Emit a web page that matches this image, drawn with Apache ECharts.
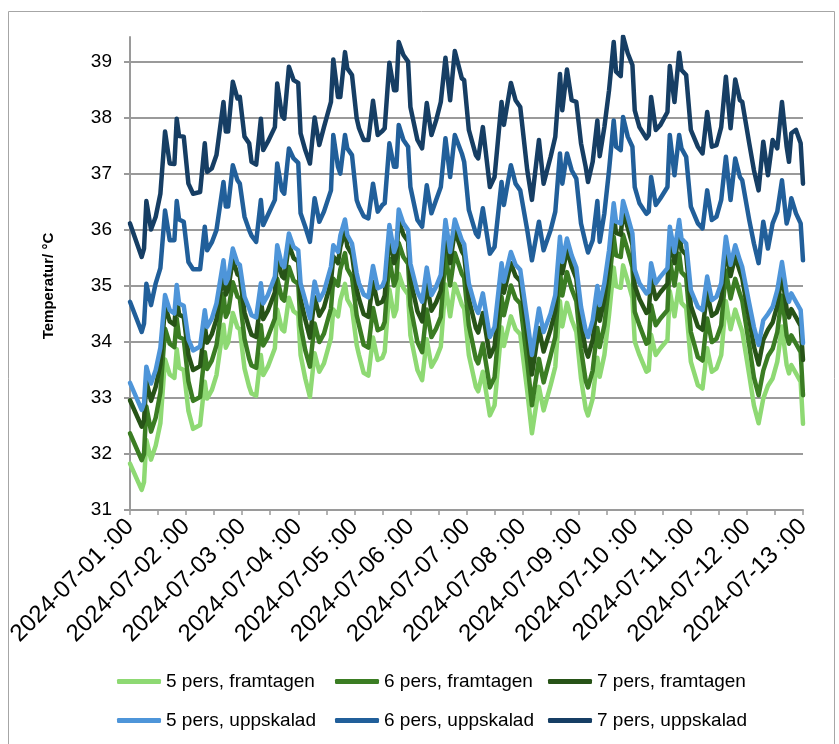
<!DOCTYPE html>
<html><head><meta charset="utf-8">
<script src="https://cdn.jsdelivr.net/npm/echarts@6/dist/echarts.min.js"></script>
<style>html,body{margin:0;padding:0;background:#fff}#c{width:839px;height:744px}</style>
</head><body><div id="c"></div>
<script>
const hours = [0,5,6,7,9,11,13,15,17,19, 20,21,23,25,27,30,32,33,35,37, 40,41,42,44,46,47,49,51,52,54, 56,57,59,62,63,65,66,68,70,72, 73,75,77,79,81,83,86,87,89,90, 92,93,95,97,98,100,102,104,106,108, 109,111,113,114,115,117,119,120,123,125, 127,129,131,133,135,137,139,142,143,145, 148,149,151,154,156,159,160,163,165,167, 170,172,175,177,180,182,184,185,187,189, 191,193,195,196,198,200,201,203,205,207, 208,210,211,213,215,216,218,221,222,223, 225,227,230,231,233,235,236,238,240,243, 245,247,249,251,253,255,257,259,261,262, 265,267,269,271,273,275,277,279,281,282, 283,285,287,288];

const s5f = [31.83,31.36,31.50,32.25,31.90,32.15,32.55,33.69,33.42,33.36, 33.87,33.54,33.50,32.77,32.45,32.52,33.29,32.99,33.14,33.41, 34.31,33.90,33.99,34.52,34.26,34.23,33.53,33.20,33.08,33.04, 33.77,33.41,33.56,33.89,34.58,34.23,34.19,34.79,34.55,34.49, 33.77,33.35,33.02,33.80,33.47,33.62,34.07,34.58,34.46,34.75, 35.04,34.76,34.61,33.95,33.77,33.45,33.40,34.08,33.68,33.72, 33.83,34.94,34.46,34.58,35.22,34.97,34.85,34.12,33.50,33.32, 34.05,33.56,33.71,33.92,35.03,34.46,35.04,34.67,34.60,33.77, 33.20,33.12,33.47,32.69,32.87,34.26,33.93,34.46,34.23,34.14, 33.12,32.37,33.20,32.78,33.23,33.56,34.73,34.28,34.70,34.40, 34.18,33.35,32.81,32.69,32.99,33.72,33.38,33.77,34.49,35.33, 35.00,34.97,35.37,35.09,34.79,34.01,33.77,33.47,33.50,34.13, 33.77,33.89,34.04,34.91,34.46,35.03,34.70,34.61,33.65,33.23, 33.17,33.89,33.47,33.53,33.77,34.73,34.23,34.58,34.31,34.19, 33.41,32.87,32.55,32.99,33.22,33.35,33.65,34.28,33.59,33.44, 33.59,33.44,33.29,32.54];

const s6f = [32.37,31.89,32.00,32.85,32.40,32.65,33.10,34.24,33.97,33.91, 34.42,34.09,34.05,33.30,32.95,33.02,33.82,33.52,33.67,33.94, 34.86,34.45,34.54,35.07,34.81,34.78,34.06,33.70,33.58,33.54, 34.30,33.94,34.09,34.42,35.13,34.78,34.74,35.34,35.10,35.04, 34.30,33.85,33.56,34.33,34.00,34.15,34.60,35.13,35.01,35.30, 35.59,35.31,35.16,34.48,34.30,33.95,33.90,34.61,34.21,34.25, 34.36,35.49,35.01,35.13,35.77,35.52,35.40,34.65,34.00,33.82, 34.58,34.09,34.24,34.45,35.58,35.01,35.59,35.22,35.15,34.30, 33.70,33.62,33.97,33.19,33.37,34.81,34.48,35.01,34.78,34.69, 33.65,32.87,33.70,33.28,33.76,34.09,35.28,34.83,35.25,34.95, 34.73,33.88,33.31,33.19,33.49,34.25,33.91,34.30,35.04,35.88, 35.55,35.52,35.92,35.64,35.34,34.54,34.30,33.97,34.00,34.66, 34.30,34.42,34.57,35.46,35.01,35.58,35.25,35.16,34.18,33.73, 33.67,34.42,34.00,34.06,34.30,35.28,34.78,35.13,34.86,34.74, 33.94,33.37,33.05,33.49,33.75,33.88,34.18,34.83,34.12,33.97, 34.12,33.97,33.82,33.05];

const s7f = [32.96,32.49,32.60,33.30,32.95,33.20,33.60,34.64,34.37,34.31, 34.82,34.49,34.45,33.77,33.50,33.57,34.29,33.99,34.14,34.41, 35.26,34.85,34.94,35.47,35.21,35.18,34.53,34.25,34.13,34.09, 34.77,34.41,34.56,34.89,35.53,35.18,35.14,35.74,35.50,35.44, 34.77,34.40,34.08,34.80,34.47,34.62,35.07,35.53,35.41,35.70, 35.99,35.71,35.56,34.95,34.77,34.50,34.45,35.08,34.68,34.72, 34.83,35.89,35.41,35.53,36.17,35.92,35.80,35.12,34.55,34.37, 35.05,34.56,34.71,34.92,35.98,35.41,35.99,35.62,35.55,34.77, 34.25,34.17,34.52,33.74,33.92,35.21,34.88,35.41,35.18,35.09, 34.12,33.42,34.25,33.83,34.23,34.56,35.68,35.23,35.65,35.35, 35.13,34.35,33.86,33.74,34.04,34.72,34.38,34.77,35.44,36.28, 35.95,35.92,36.32,36.04,35.74,35.01,34.77,34.52,34.55,35.13, 34.77,34.89,35.04,35.86,35.41,35.98,35.65,35.56,34.65,34.28, 34.22,34.89,34.47,34.53,34.77,35.68,35.18,35.53,35.26,35.14, 34.41,33.92,33.60,34.04,34.22,34.35,34.65,35.23,34.59,34.44, 34.59,34.44,34.29,33.68];

const s5u = [33.27,32.79,32.91,33.56,33.26,33.50,33.90,34.84,34.57,34.51, 35.02,34.69,34.65,34.05,33.85,33.92,34.57,34.27,34.42,34.69, 35.46,35.05,35.14,35.67,35.41,35.38,34.81,34.60,34.48,34.44, 35.05,34.69,34.84,35.17,35.73,35.38,35.34,35.94,35.70,35.64, 35.05,34.75,34.42,35.08,34.75,34.90,35.35,35.73,35.61,35.90, 36.19,35.91,35.76,35.23,35.05,34.85,34.80,35.36,34.96,35.00, 35.11,36.09,35.61,35.73,36.37,36.12,36.00,35.40,34.90,34.72, 35.33,34.84,34.99,35.20,36.18,35.61,36.19,35.82,35.75,35.05, 34.60,34.52,34.87,34.09,34.27,35.41,35.08,35.61,35.38,35.29, 34.40,33.77,34.60,34.18,34.51,34.84,35.88,35.43,35.85,35.55, 35.33,34.63,34.21,34.09,34.39,35.00,34.66,35.05,35.64,36.48, 36.15,36.12,36.52,36.24,35.94,35.29,35.05,34.87,34.90,35.41, 35.05,35.17,35.32,36.06,35.61,36.18,35.85,35.76,34.93,34.63, 34.57,35.17,34.75,34.81,35.05,35.88,35.38,35.73,35.46,35.34, 34.69,34.27,33.95,34.39,34.50,34.63,34.93,35.43,34.87,34.72, 34.87,34.72,34.57,33.98];

const s6u = [34.72,34.18,34.33,35.04,34.66,35.05,35.32,36.35,35.82,35.82, 36.52,36.19,36.15,35.43,35.30,35.30,36.06,35.64,35.78,36.00, 36.86,36.42,36.42,37.16,36.89,36.83,36.24,36.00,35.90,35.79, 36.54,36.09,36.27,36.54,37.19,36.71,36.65,37.46,37.28,37.20, 36.30,36.06,35.79,36.57,36.15,36.33,36.71,37.70,37.13,37.01, 37.70,37.46,37.34,36.54,36.42,36.25,36.21,36.83,36.33,36.45, 36.48,37.55,37.13,37.13,37.88,37.61,37.49,36.77,36.18,36.06, 36.80,36.30,36.54,36.77,37.64,36.95,37.70,37.37,37.22,36.36, 35.94,35.88,36.39,35.58,35.70,36.86,36.45,37.16,36.83,36.71, 36.00,35.46,36.15,35.64,36.00,36.33,37.37,36.83,37.37,37.07, 36.92,36.12,35.76,35.60,35.82,36.52,35.79,36.30,37.07,37.96, 37.49,37.43,38.02,37.67,37.49,36.77,36.48,36.29,36.33,36.95, 36.45,36.57,36.77,37.70,36.98,37.70,37.46,37.31,36.42,36.12, 36.03,36.71,36.18,36.24,36.54,37.31,36.54,37.28,36.95,36.89, 36.18,35.76,35.41,36.15,35.67,36.12,36.33,36.89,36.12,36.27, 36.57,36.30,36.12,35.46];

const s7u = [36.12,35.52,35.67,36.52,36.01,36.24,36.65,37.76,37.19,37.18, 37.99,37.68,37.67,36.83,36.65,36.68,37.55,37.04,37.10,37.34, 38.29,37.76,37.76,38.65,38.35,38.38,37.67,37.55,37.22,37.17, 37.99,37.43,37.58,37.84,38.62,38.05,37.99,38.92,38.68,38.63, 37.73,37.43,37.19,38.01,37.52,37.84,38.29,39.05,38.38,38.38, 39.18,38.89,38.77,38.00,37.82,37.61,37.61,38.31,37.70,37.77, 37.82,38.99,38.50,38.50,39.36,39.13,39.01,38.20,37.61,37.46, 38.27,37.70,37.96,38.29,39.08,38.32,39.20,38.71,38.68,37.79, 37.34,37.28,37.84,36.77,36.95,38.29,37.88,38.63,38.32,38.20, 37.07,36.54,37.61,36.83,37.31,37.67,38.79,38.14,38.87,38.32, 38.29,37.55,37.13,36.86,37.22,37.96,37.32,37.84,38.50,39.36, 38.83,38.75,39.46,39.16,38.95,38.14,37.84,37.64,37.70,38.38, 37.79,37.88,38.11,38.93,38.29,39.17,38.86,38.77,37.79,37.49, 37.37,38.11,37.49,37.52,37.84,38.74,37.82,38.69,38.32,38.29, 37.55,37.07,36.71,37.58,36.98,37.61,37.46,38.29,37.49,37.22, 37.73,37.79,37.55,36.83];

const dayLabels = ['2024-07-01 :00','2024-07-02 :00','2024-07-03 :00','2024-07-04 :00','2024-07-05 :00','2024-07-06 :00','2024-07-07 :00','2024-07-08 :00','2024-07-09 :00','2024-07-10 :00','2024-07-11 :00','2024-07-12 :00','2024-07-13 :00'];
const seriesNames = ['5 pers, framtagen','6 pers, framtagen','7 pers, framtagen','5 pers, uppskalad','6 pers, uppskalad','7 pers, uppskalad'];
const seriesValues = [s5f, s6f, s7f, s5u, s6u, s7u];
const seriesColors = ['#8ED973','#3B7D23','#275317','#4E95D9','#215F9A','#163E64'];

const narrow = "'Liberation Sans Narrow','Arial Narrow','Liberation Sans',sans-serif";
const gridColor = '#9a9a9a';

const chart = echarts.init(document.getElementById('c'), null, {renderer: 'canvas'});
const legendPos = [[117,672],[335,672],[548,672],[117,711],[335,711],[548,711]];

chart.setOption({
  animation: false,
  backgroundColor: '#fff',
  graphic: [{type:'rect', silent:true, shape:{x:8.5,y:11.5,width:826,height:740}, style:{fill:'none', stroke:'#a6a6a6', lineWidth:1}}],
  grid: [
    {left:130, right:36, top:62, bottom:234},
    {left:130, right:36, top:37, bottom:234}
  ],
  xAxis: [
    {gridIndex:0, type:'value', min:0, max:288, interval:12,
     axisLine:{show:true, lineStyle:{color:gridColor, width:2}},
     axisTick:{show:true, inside:false, length:5, lineStyle:{color:gridColor, width:1.5}},
     splitLine:{show:false},
     axisLabel:{rotate:45, margin:13, fontSize:24, fontFamily:narrow, color:'#000',
       formatter:v => (v % 24 === 0 ? dayLabels[v/24] : '')}},
    {gridIndex:1, type:'value', min:0, max:288, show:false}
  ],
  yAxis: [
    {gridIndex:0, type:'value', min:31, max:39, interval:1,
     name:'Temperatur/ °C', nameLocation:'middle', nameGap:74, nameRotate:90,
     nameTextStyle:{fontSize:15, fontWeight:'bold', fontFamily:"'Liberation Sans',Arial,sans-serif", color:'#000'},
     axisLine:{show:true, lineStyle:{color:gridColor, width:2}},
     axisTick:{show:true, inside:false, length:6, lineStyle:{color:gridColor, width:2}},
     splitLine:{show:true, lineStyle:{color:gridColor, width:2}},
     axisLabel:{margin:18, fontSize:19, fontFamily:"'Liberation Sans',Arial,sans-serif", color:'#000'}},
    {gridIndex:1, type:'value', min:31, max:39.45,
     axisLine:{show:true, lineStyle:{color:gridColor, width:2}},
     axisTick:{show:false}, axisLabel:{show:false}, splitLine:{show:false}}
  ],
  legend: seriesNames.map((n, i) => ({
    data:[{name:n, icon:'roundRect'}], left:legendPos[i][0], top:legendPos[i][1], selectedMode:false,
    itemWidth:44, itemHeight:5, padding:0,
    textStyle:{fontSize:19, fontFamily:narrow, color:'#000'}
  })),
  series: seriesNames.map((n, i) => ({
    name:n, type:'line', xAxisIndex:1, yAxisIndex:1,
    data: hours.map((h, k) => [h, seriesValues[i][k]]),
    symbol:'none', showSymbol:false,
    lineStyle:{color:seriesColors[i], width:4.5, join:'round', cap:'round'},
    itemStyle:{color:seriesColors[i]}
  }))
});
</script></body></html>
